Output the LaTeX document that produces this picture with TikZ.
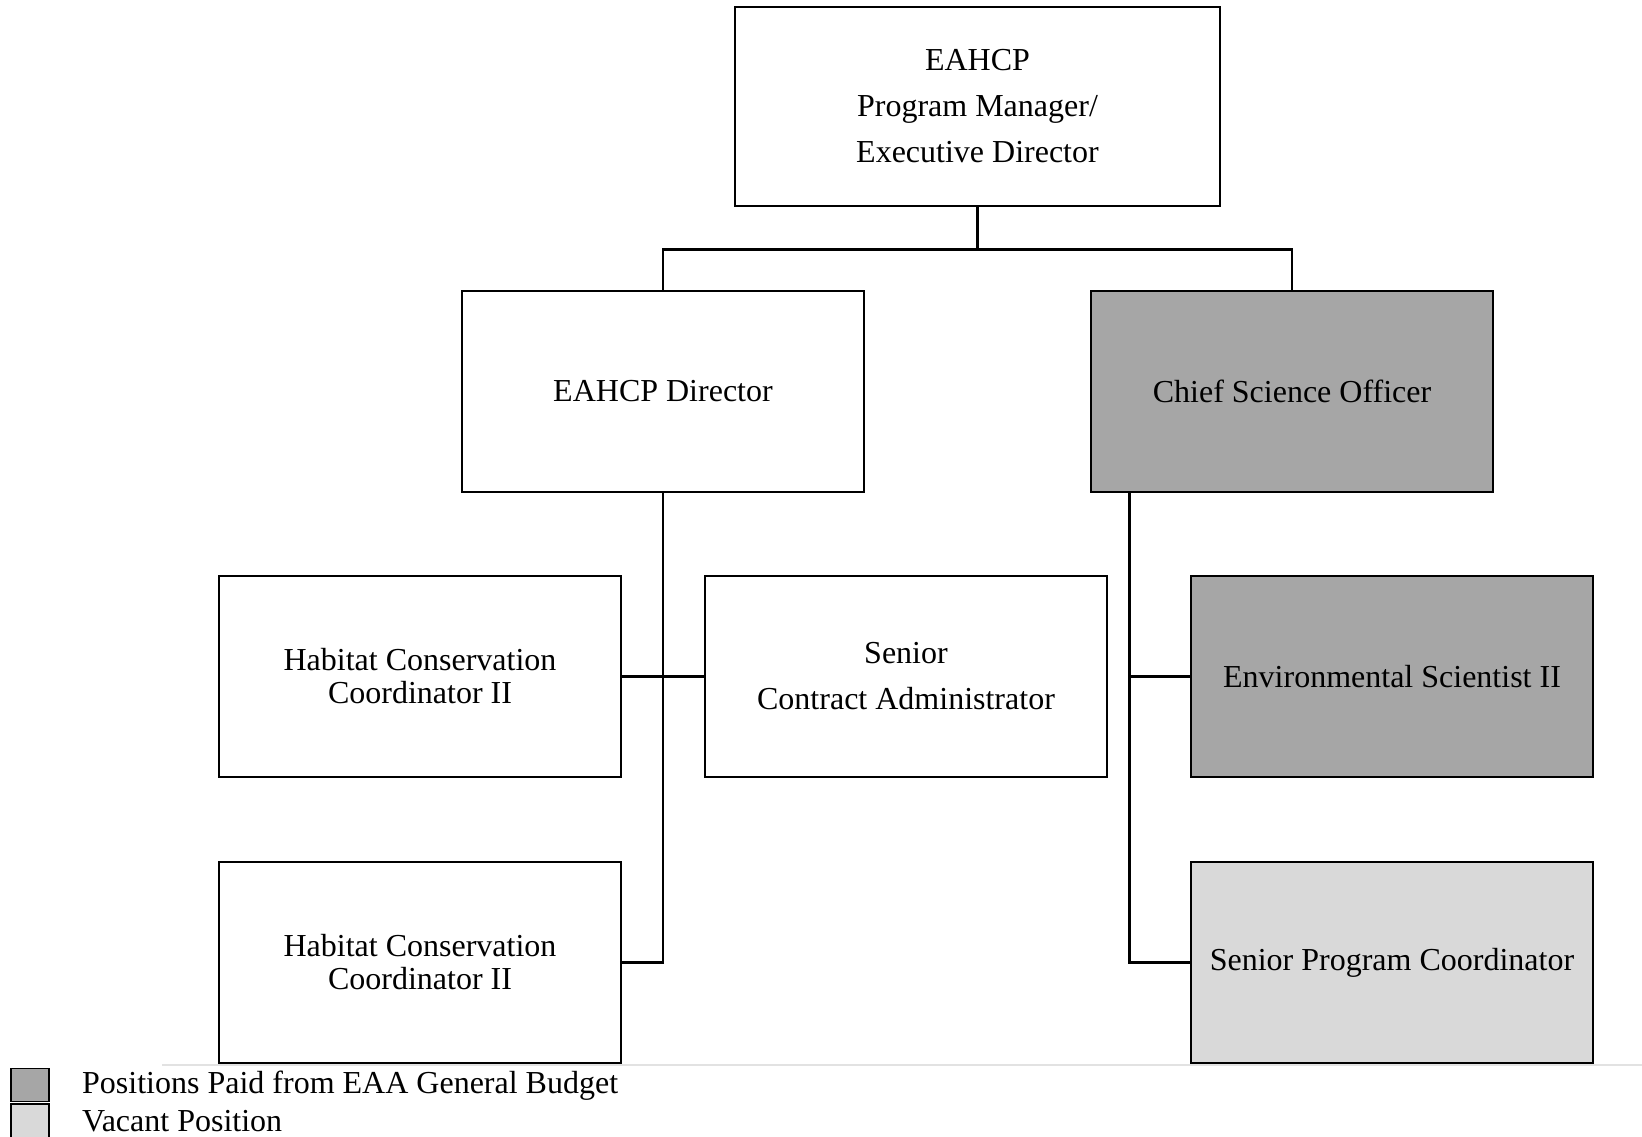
\documentclass[tikz,border=0pt]{standalone}
\usepackage{fontspec}
\setmainfont{Liberation Serif}
\usetikzlibrary{calc}
\definecolor{paidgray}{HTML}{A6A6A6}
\definecolor{vacgray}{HTML}{D9D9D9}
\definecolor{rulegray}{HTML}{E2E2E2}
\tikzset{
  box/.style={draw=black, line width=2.6pt, minimum width=402pt, minimum height=201pt,
    inner sep=0pt, align=center, font=\fontsize{32}{46}\selectfont},
  tight/.style={font=\fontsize{32}{33}\selectfont},
  conn/.style={draw=black, line width=2.7pt},
  legsq/.style={draw=black, line width=1.6pt, minimum width=38pt, minimum height=33pt, inner sep=0pt},
  legtext/.style={anchor=west, inner sep=0pt, font=\fontsize{32}{36}\selectfont}
}
\begin{document}
\begin{tikzpicture}[x=1pt,y=-1pt]
\useasboundingbox[fill=white] (0,0) rectangle (1642,1136);
% light rule
\draw[rulegray, line width=2pt] (162,1065) -- (1642,1065);
% boxes
\node[box, minimum width=485pt, minimum height=199pt] (top) at (977.5,106.5) {EAHCP\\Program Manager/\\Executive Director};
\node[box] (dir) at (663,391.5) {EAHCP Director};
\node[box, fill=paidgray] (cso) at (1292,391.5) {Chief Science Officer};
\node[box, tight] (hcca) at (420,676.5) {Habitat Conservation\\Coordinator II};
\node[box] (sca) at (906,676.5) {Senior\\Contract Administrator};
\node[box, tight] (hccb) at (420,962.5) {Habitat Conservation\\Coordinator II};
\node[box, fill=paidgray] (es) at (1392,676.5) {Environmental Scientist II};
\node[box, fill=vacgray] (spc) at (1392,962.5) {Senior Program Coordinator};
% connectors
\draw[conn] (top.south) -- ++(0,42.5) coordinate (j);
\draw[conn] (dir.north) |- (j) -| (cso.north);
\draw[conn] (dir.south) |- (hccb.east);
\draw[conn] (hcca.east) -- (sca.west);
\coordinate (cs) at ($(cso.south west)+(40,0)$);
\draw[conn] (cs) |- (spc.west);
\draw[conn] (es.west) -- (es.west -| cs);
% legend
\node[legsq, fill=paidgray] (lg1) at (30,1085) {};
\node[legsq, fill=vacgray, minimum height=34pt] (lg2) at (30,1121) {};
\node[legtext] (lt1) at (82,1086) {Positions Paid from EAA General Budget};
\node[legtext] (lt2) at (82,1121) {Vacant Position};
\end{tikzpicture}
\end{document}
